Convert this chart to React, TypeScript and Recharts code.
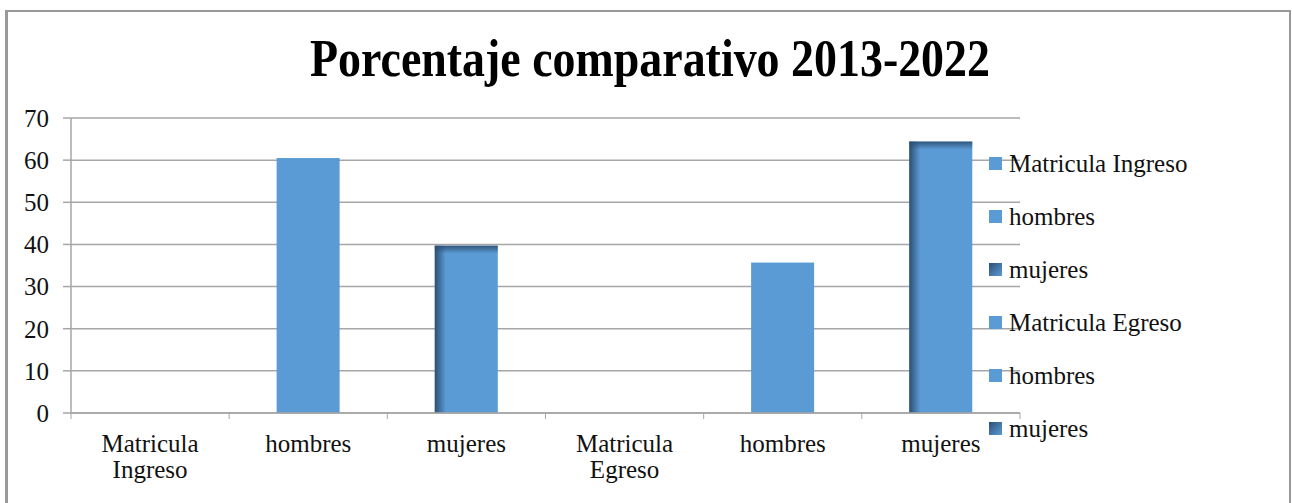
import React from "react";
import {
  BarChart,
  Bar,
  Cell,
  XAxis,
  YAxis,
  CartesianGrid,
  Legend,
} from "recharts";

const categories = [
  "Matricula Ingreso",
  "hombres",
  "mujeres",
  "Matricula Egreso",
  "hombres",
  "mujeres",
];
const percentages = [0, 60.5, 39.7, 0, 35.7, 64.4];
const yTicks = [0, 10, 20, 30, 40, 50, 60, 70];
const title = "Porcentaje comparativo 2013-2022";

const chartData = categories.map((name, i) => ({ name, value: percentages[i] }));

const FONT = '"Liberation Serif", "DejaVu Serif", serif';
const BLUE = "#5B9BD5";
const DARK = "#2C4F73";
const GRID = "#A6A6A6";

// "mujeres" bars get the shaded left/top edges of the original
const ShadedBar = (props: any) => {
  const { x, y, width, height, payload } = props;
  if (!height || height <= 0) return null;
  const shaded = payload && payload.name === "mujeres";
  return (
    <g>
      <rect x={x} y={y} width={width} height={height} fill={BLUE} />
      {shaded && (
        <>
          <rect x={x} y={y} width={11} height={height} fill="url(#edgeLeft)" />
          <rect x={x} y={y} width={width} height={8} fill="url(#edgeTop)" />
        </>
      )}
    </g>
  );
};

const CategoryTick = (props: any) => {
  const { x, y, payload, index } = props;
  const half = payload && payload.offset ? payload.offset : 79;
  const words = String(payload.value).split(" ");
  return (
    <g>
      <line x1={x - half} x2={x - half} y1={y} y2={y + 6} stroke={GRID} />
      {index === categories.length - 1 && (
        <line x1={x + half} x2={x + half} y1={y} y2={y + 6} stroke={GRID} />
      )}
      <text
        x={x}
        y={y + 39}
        textAnchor="middle"
        fill="#111"
        style={{ fontFamily: FONT, fontSize: 25 }}
      >
        {words.map((w, i) => (
          <tspan key={i} x={x} dy={i === 0 ? 0 : 26}>
            {w}
          </tspan>
        ))}
      </text>
    </g>
  );
};

const LegendBox = () => (
  <div style={{ fontFamily: FONT, fontSize: 25, color: "#111" }}>
    {categories.map((name, i) => (
      <div
        key={i}
        style={{ height: 53, display: "flex", alignItems: "center" }}
      >
        <span
          style={{
            width: 13,
            height: 13,
            marginRight: 7,
            display: "inline-block",
            background:
              name === "mujeres"
                ? `linear-gradient(135deg, ${DARK} 0%, ${BLUE} 100%)`
                : BLUE,
          }}
        />
        <span style={{ whiteSpace: "nowrap" }}>{name}</span>
      </div>
    ))}
  </div>
);

export default function App() {
  return (
    <div
      style={{
        position: "absolute",
        left: 0,
        top: 0,
        width: 1292,
        height: 503,
        background: "#fff",
        overflow: "hidden",
      }}
    >
      <div
        style={{
          position: "absolute",
          left: 5,
          top: 10,
          width: 1281,
          height: 600,
          borderLeft: "3px solid #999",
          borderTop: "2px solid #999",
          borderRight: "2px solid #999",
        }}
      />
      <svg
        width={1292}
        height={100}
        style={{ position: "absolute", left: 0, top: 0 }}
      >
        <text
          x={650}
          y={76}
          textAnchor="middle"
          textLength={680}
          lengthAdjust="spacingAndGlyphs"
          style={{ fontFamily: FONT, fontSize: 52, fontWeight: "bold" }}
          fill="#000"
        >
          {title}
        </text>
      </svg>
      <div style={{ position: "absolute", left: 0, top: 0 }}>
        <BarChart
          width={1292}
          height={503}
          data={chartData}
          margin={{ top: 118, right: 272, bottom: 0, left: 11 }}
          barCategoryGap="30%"
        >
          <defs>
            <linearGradient id="edgeLeft" x1="0" y1="0" x2="1" y2="0">
              <stop offset="0%" stopColor={DARK} stopOpacity={1} />
              <stop offset="100%" stopColor={DARK} stopOpacity={0} />
            </linearGradient>
            <linearGradient id="edgeTop" x1="0" y1="0" x2="0" y2="1">
              <stop offset="0%" stopColor={DARK} stopOpacity={0.9} />
              <stop offset="100%" stopColor={DARK} stopOpacity={0} />
            </linearGradient>
          </defs>
          <CartesianGrid vertical={false} stroke={GRID} strokeWidth={1.5} />
          <XAxis
            dataKey="name"
            height={90}
            interval={0}
            tickLine={false}
            tickSize={0}
            tickMargin={0}
            axisLine={{ stroke: GRID, strokeWidth: 1.5 }}
            tick={<CategoryTick />}
          />
          <YAxis
            width={60}
            domain={[0, 70]}
            ticks={yTicks}
            interval={0}
            tickSize={8}
            tickMargin={14}
            axisLine={{ stroke: GRID, strokeWidth: 1.5 }}
            tickLine={{ stroke: GRID, strokeWidth: 1.5 }}
            tick={{ fill: "#111", fontSize: 25, fontFamily: FONT }}
          />
          <Legend
            align="center"
            verticalAlign="middle"
            layout="vertical"
            content={<LegendBox />}
            wrapperStyle={{ left: 989, top: 137, width: 300, height: 320 }}
          />
          <Bar
            dataKey="value"
            fill={BLUE}
            shape={<ShadedBar />}
            isAnimationActive={false}
          >
            {chartData.map((d, i) => (
              <Cell key={i} fill={BLUE} />
            ))}
          </Bar>
        </BarChart>
      </div>
    </div>
  );
}
